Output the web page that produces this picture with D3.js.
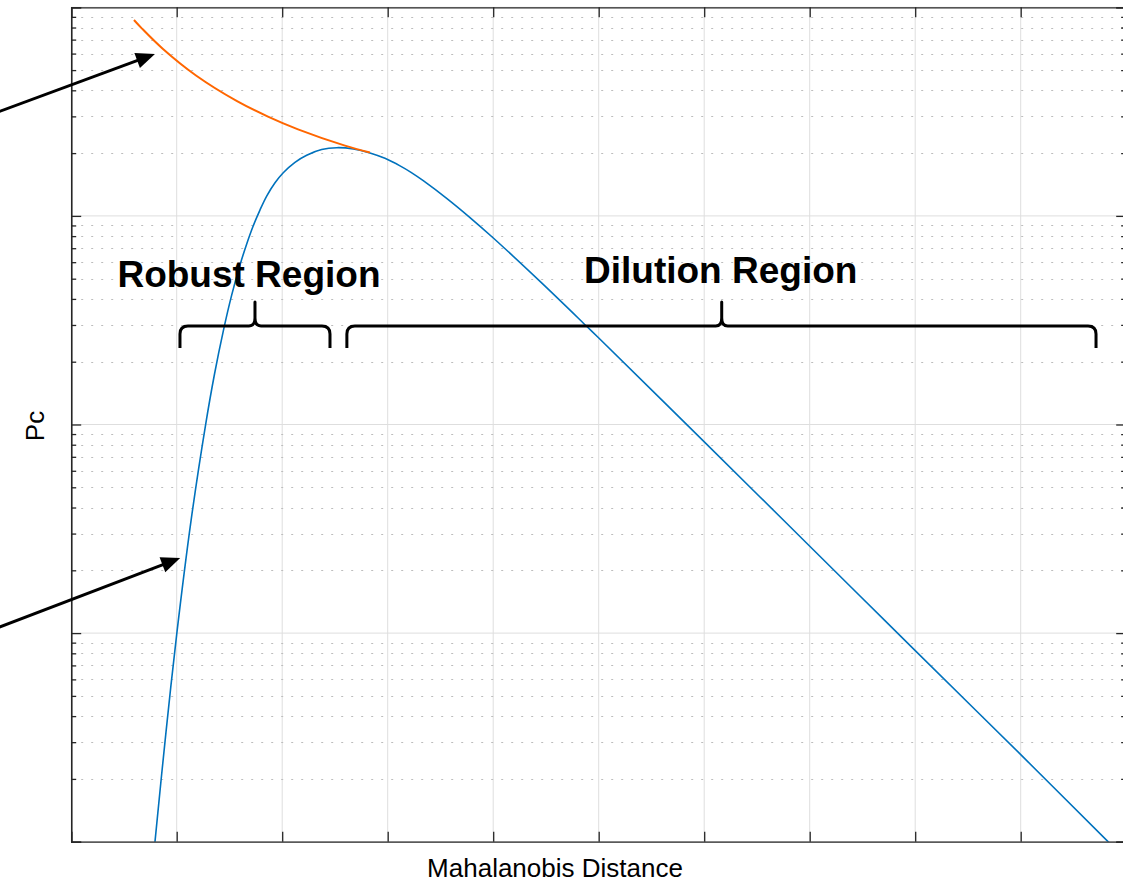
<!DOCTYPE html>
<html>
<head>
<meta charset="utf-8">
<script src="https://cdn.jsdelivr.net/npm/d3@7"></script>
<style>
  html, body { margin: 0; padding: 0; background: #fff; }
  svg { display: block; }
  text { font-family: "Liberation Sans", Arial, Helvetica, sans-serif; fill: #000; }
</style>
</head>
<body>
<svg id="chart" width="1123" height="884"></svg>
<script>
// Collision probability against Mahalanobis distance (log Pc axis).
// Pc values are listed as their base-10 exponents.
const mdBlue = [0.756, 0.794, 0.898, 1.000, 1.137, 1.275, 1.358, 1.442, 1.521, 1.600, 1.662, 1.723, 1.789,
                1.853, 1.932, 2.010, 2.121, 2.232, 2.374, 2.517, 2.675, 2.832, 2.974, 3.117, 3.221, 3.337,
                3.562, 3.780, 4.001, 4.444, 4.886, 4.996, 6.008, 6.750, 7.477, 7.998, 9.003, 9.830, 9.894];
const log10PcBlue = [-7.208, -7.001, -6.477, -6.006, -5.457, -4.998, -4.759, -4.551, -4.380, -4.235, -4.137, -4.051, -3.972,
                     -3.905, -3.841, -3.793, -3.743, -3.709, -3.682, -3.673, -3.679, -3.698, -3.724, -3.760, -3.791, -3.831,
                     -3.917, -4.008, -4.106, -4.314, -4.529, -4.583, -5.087, -5.458, -5.822, -6.083, -6.584, -7.001, -7.033];

const mdOrange = [0.595, 0.671, 0.870, 1.183, 1.572, 1.865, 2.150, 2.595, 2.832];
const log10PcOrange = [-3.061, -3.102, -3.200, -3.327, -3.450, -3.524, -3.585, -3.663, -3.696];

const xTicks = [0, 1, 2, 3, 4, 5, 6, 7, 8, 9, 10];
const yDecades = [1e-7, 1e-6, 1e-5, 1e-4, 1e-3];

const regionNames = ["Robust Region", "Dilution Region"];
const regionStart = [1.031, 2.613];
const regionEnd = [2.453, 9.714];
const regionMid = [1.742, 6.166];
const regionLevel = 2.97e-5;

// arrows: tail (md, Pc) -> head (md, Pc)
const arrowTailMd = [-0.70, -0.70];
const arrowTailPc = [3.14e-4, 1.06e-6];
const arrowHeadMd = [0.794, 1.033];
const arrowHeadPc = [5.97e-4, 2.29e-6];

const blue = mdBlue.map((m, i) => [m, Math.pow(10, log10PcBlue[i])]);
const orange = mdOrange.map((m, i) => [m, Math.pow(10, log10PcOrange[i])]);

const svg = d3.select("#chart");
const x = d3.scaleLinear().domain([0, 10]).range([71.2, 1126.2]);
const y = d3.scaleLog().domain([1e-7, 1e-3]).range([841.7, 7.3]);
const [x0, x1] = x.range();
const [yb, yt] = y.range();

const minorTicks = [];
for (let d = 0; d < yDecades.length - 1; d++) {
  for (let k = 2; k <= 9; k++) minorTicks.push(yDecades[d] * k);
}

// grid
const grid = svg.append("g");
grid.selectAll(".vg").data(xTicks).join("line")
  .attr("x1", d => x(d)).attr("x2", d => x(d)).attr("y1", yt).attr("y2", yb)
  .attr("stroke", "#dedede").attr("stroke-width", 1);
grid.selectAll(".hm").data(minorTicks).join("line")
  .attr("x1", x0).attr("x2", x1).attr("y1", d => Math.round(y(d)) + 0.5).attr("y2", d => Math.round(y(d)) + 0.5)
  .attr("stroke", "#bdbdbd").attr("stroke-width", 1).attr("stroke-dasharray", "2,8");
grid.selectAll(".hg").data(yDecades).join("line")
  .attr("x1", x0).attr("x2", x1).attr("y1", d => y(d)).attr("y2", d => y(d))
  .attr("stroke", "#dedede").attr("stroke-width", 1);

// curves
svg.append("clipPath").attr("id", "plotClip").append("rect")
  .attr("x", x0).attr("y", yt).attr("width", x1 - x0).attr("height", yb - yt);

const line = d3.line().x(d => x(d[0])).y(d => y(d[1])).curve(d3.curveCatmullRom.alpha(0.5));
const plot = svg.append("g").attr("clip-path", "url(#plotClip)");
plot.append("path").datum(blue)
  .attr("d", line).attr("fill", "none").attr("stroke", "#0072BD").attr("stroke-width", 1.6);
plot.append("path").datum(orange)
  .attr("d", line).attr("fill", "none").attr("stroke", "#FF6600").attr("stroke-width", 2);

// axes box with inward ticks
const axCol = "#262626";
const none = () => "";
function styleAxis(g) {
  g.selectAll("path.domain").attr("stroke", axCol).attr("stroke-width", 1.3);
  g.selectAll(".tick line").attr("stroke", axCol).attr("stroke-width", 1.3);
  g.selectAll(".tick text").remove();
}
svg.append("g").attr("transform", `translate(0,${yb})`)
  .call(d3.axisBottom(x).tickValues(xTicks).tickSize(-10).tickFormat(none)).call(styleAxis);
svg.append("g").attr("transform", `translate(0,${yt})`)
  .call(d3.axisTop(x).tickValues(xTicks).tickSize(-10).tickFormat(none)).call(styleAxis);
svg.append("g").attr("transform", `translate(${x0},0)`)
  .call(d3.axisLeft(y).tickValues(yDecades).tickSize(-10).tickFormat(none)).call(styleAxis);
svg.append("g").attr("transform", `translate(${x0},0)`)
  .call(d3.axisLeft(y).tickValues(minorTicks).tickSize(-5).tickSizeOuter(0).tickFormat(none)).call(styleAxis);
svg.append("g").attr("transform", `translate(${x1},0)`)
  .call(d3.axisRight(y).tickValues(yDecades).tickSize(-10).tickFormat(none)).call(styleAxis);
svg.append("g").attr("transform", `translate(${x1},0)`)
  .call(d3.axisRight(y).tickValues(minorTicks).tickSize(-5).tickSizeOuter(0).tickFormat(none)).call(styleAxis);

// axis labels
svg.append("text").attr("x", 555).attr("y", 877).attr("text-anchor", "middle")
  .attr("font-size", 26).text("Mahalanobis Distance");
svg.append("text").attr("transform", "translate(44,426) rotate(-90)").attr("text-anchor", "middle")
  .attr("font-size", 26).text("Pc");

// region braces
const ann = svg.append("g");
regionNames.forEach((name, i) => {
  const xl = x(regionStart[i]), xr = x(regionEnd[i]), xc = x(regionMid[i]);
  const yh = y(regionLevel);
  const drop = 22, rise = 24, r = 8;
  const p = d3.path();
  p.moveTo(xl, yh + drop);
  p.lineTo(xl, yh + r);
  p.quadraticCurveTo(xl, yh, xl + r, yh);
  p.lineTo(xc - 6, yh);
  p.quadraticCurveTo(xc, yh, xc, yh - 8);
  p.lineTo(xc, yh - rise);
  p.lineTo(xc, yh - 8);
  p.quadraticCurveTo(xc, yh, xc + 6, yh);
  p.lineTo(xr - r, yh);
  p.quadraticCurveTo(xr, yh, xr, yh + r);
  p.lineTo(xr, yh + drop);
  ann.append("path").attr("d", p.toString()).attr("fill", "none")
    .attr("stroke", "#000").attr("stroke-width", 3).attr("stroke-linejoin", "round");
  ann.append("text").attr("x", i === 0 ? (xl + xr) / 2 - 6 : xc - 1)
    .attr("y", i === 0 ? yh - 39 : yh - 43)
    .attr("text-anchor", "middle").attr("font-size", 37).attr("font-weight", "bold").text(name);
});

// arrows
arrowHeadMd.forEach((hm, i) => {
  const tx = x(arrowTailMd[i]), ty = y(arrowTailPc[i]);
  const hx = x(hm), hy = y(arrowHeadPc[i]);
  const ang = Math.atan2(hy - ty, hx - tx);
  const L = 19, Wd = 8;
  const bx = hx - L * Math.cos(ang), by = hy - L * Math.sin(ang);
  ann.append("line").attr("x1", tx).attr("y1", ty).attr("x2", bx + 2 * Math.cos(ang)).attr("y2", by + 2 * Math.sin(ang))
    .attr("stroke", "#000").attr("stroke-width", 3);
  const nx = -Math.sin(ang), ny = Math.cos(ang);
  ann.append("polygon")
    .attr("points", [[hx, hy], [bx + Wd * nx, by + Wd * ny], [bx - Wd * nx, by - Wd * ny]].map(pt => pt.join(",")).join(" "))
    .attr("fill", "#000");
});
</script>
</body>
</html>
